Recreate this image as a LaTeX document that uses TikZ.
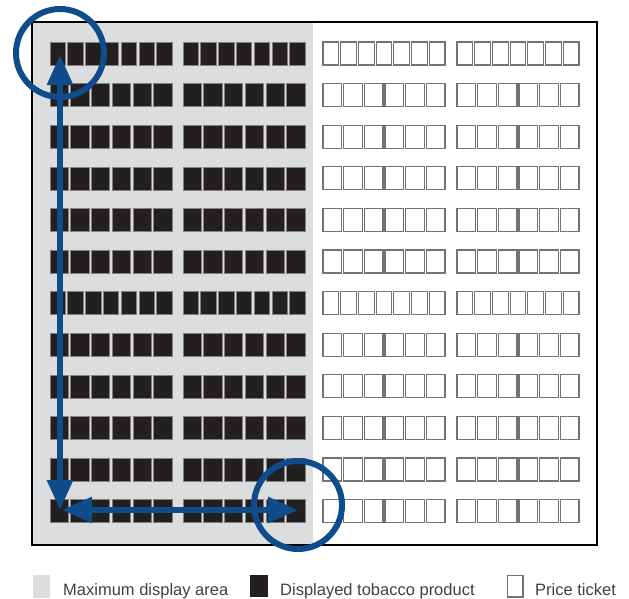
\documentclass[tikz,border=0pt]{standalone}
\usepackage{fontspec}
\setmainfont{Liberation Sans}
\usetikzlibrary{arrows.meta}
\definecolor{shelfgrey}{HTML}{DCDDDF}
\definecolor{packblack}{HTML}{231F20}
\definecolor{ringblue}{HTML}{0F4C8C}
\begin{document}
\begin{tikzpicture}[x=1pt,y=-1pt,
  pack/.style={fill=packblack,draw=black!50,line width=0.6pt},
  ticket/.style={fill=white,draw=black!55,line width=1.1pt},
  ring/.style={circle,draw=ringblue,line width=6pt,minimum size=88pt,inner sep=0pt},
  arr/.style={{Triangle[length=30pt,width=25pt]}-{Triangle[length=30pt,width=25pt]},color=ringblue,line width=6pt},
  key/.style={font=\fontsize{16.5}{18}\selectfont,text=black!75,anchor=base west,inner sep=0pt}]
\useasboundingbox (0,0) rectangle (629,598);
\fill[shelfgrey] (33,23) rectangle (313,544);
\draw[line width=2.5pt] (32,22) rectangle (597,545);
% shelves: tobacco products left, price tickets right
\foreach \r/\n in {0/7,1/6,2/6,3/6,4/6,5/6,6/7,7/6,8/6,9/6,10/6,11/6} {
  \pgfmathsetmacro{\y}{42+41.6*\r}
  \pgfmathsetmacro{\p}{124.5/\n}
  \pgfmathsetmacro{\q}{124/\n}
  \foreach \g in {50,183} \foreach \k in {1,...,\n}
    \draw[pack] ({\g+(\k-1)*\p},\y) rectangle ++({\p-2.5},23);
  \foreach \g in {323,457} \foreach \k in {1,...,\n}
    \draw[ticket] ({\g+(\k-1)*\q},\y) rectangle ++({\q-2},23);
}
\node[ring] (topring) at (60,53) {};
\node[ring] (cornerring) at (298,505) {};
\coordinate (vtop) at (60,55);
\coordinate (vbot) at (60,510);
\coordinate (hleft) at (62,510);
\coordinate (hright) at (298,510);
\draw[arr] (vtop) -- (vbot);
\draw[arr] (hleft) -- (hright);
% legend
\fill[shelfgrey] (33,575) rectangle (50,598);
\node[key] (areakey) at (63,595) {Maximum display area};
\fill[packblack] (250,575) rectangle (268,597);
\node[key] (packkey) at (280,595) {Displayed tobacco product};
\draw[ticket] (507.5,575.5) rectangle (523,597);
\node[key] (ticketkey) at (535,595) {Price ticket};
\end{tikzpicture}
\end{document}
